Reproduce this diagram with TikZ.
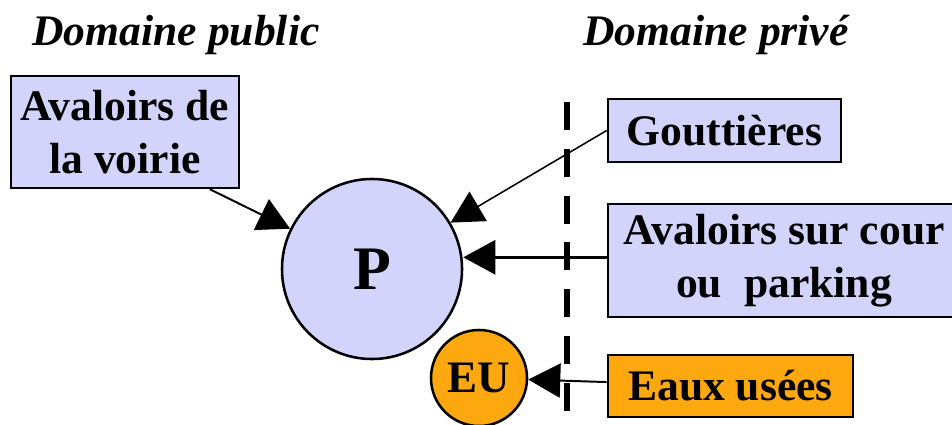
\documentclass[tikz,border=0pt]{standalone}
\usepackage{fontspec}
\setmainfont{Liberation Serif}
\usepackage{tikz}
\usetikzlibrary{arrows.meta, positioning}
\definecolor{lavande}{RGB}{210,212,252}
\definecolor{orangeeu}{RGB}{252,168,14}
\tikzset{
  boite/.style={draw, line width=1.8pt, inner sep=0pt, align=center,
    font=\bfseries\fontsize{31}{37.5}\selectfont},
  regard/.style={draw, circle, line width=1.8pt, inner sep=0pt},
  fleche/.style={-{Triangle[length=0.8cm, width=0.85cm]}},
  titre/.style={font=\bfseries\itshape\fontsize{31}{37.5}\selectfont}
}

\begin{document}
\begin{tikzpicture}[x=0.025cm, y=-0.025cm]
\useasboundingbox (0, 0) rectangle (952, 425);
\node[titre] (public) at (176, 35) {Domaine public};
\node[titre] (prive) at (716, 35) {Domaine priv\'e};
\node[boite, fill=lavande, minimum width=5.7cm, minimum height=2.8cm] (voirie) at (125, 132) {Avaloirs de\\la voirie};
\node[boite, fill=lavande, minimum width=5.825cm, minimum height=1.575cm] (gouttieres) at (724.5, 130.5) {Goutti\`eres};
\node[boite, fill=lavande, minimum width=8.8cm, minimum height=2.825cm] (cour) at (784, 260.5) {Avaloirs sur cour\\ou\ \ parking};
\node[boite, fill=orangeeu, minimum width=6.125cm, minimum height=1.55cm] (eaux) at (730.5, 386) {Eaux us\'ees};
\node[regard, fill=lavande, minimum size=4.5cm, font=\bfseries\fontsize{44}{50}\selectfont] (P) at (372, 269) {P};
\node[regard, fill=orangeeu, minimum size=2.4cm, font=\bfseries\fontsize{32}{36}\selectfont] (EU) at (479, 378) {EU};
% limite entre domaines
\draw[line width=4.6pt, dash pattern=on 0.7cm off 0.47cm] (567, 102) -- (567, 430);
\draw[fleche, line width=1.4pt] (voirie.-34) -- (P);
\draw[fleche, line width=1.1pt] (gouttieres.west) -- (P);
\draw[fleche, line width=2.2pt] ([yshift=0.08cm]cour.west) -- ([yshift=0.08cm]P.east |- cour.west);
\draw[fleche, line width=1.4pt] (eaux) -- (EU);
\end{tikzpicture}
\end{document}
